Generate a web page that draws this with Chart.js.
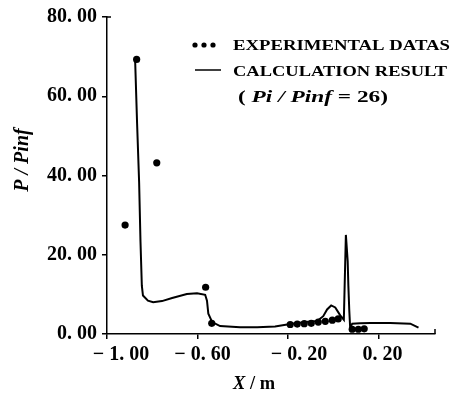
<!DOCTYPE html>
<html>
<head>
<meta charset="utf-8">
<script src="https://cdn.jsdelivr.net/npm/chart.js@4.4.1/dist/chart.umd.min.js"></script>
<style>
  html, body { margin: 0; padding: 0; background: #fff; }
  #wrap { width: 470px; height: 396px; position: relative; }
</style>
</head>
<body>
<div id="wrap"><canvas id="chart" width="470" height="396"></canvas></div>
<script>
// calculation result (P/Pinf vs X in m)
var calcX = [-0.876, -0.867, -0.858, -0.852, -0.846, -0.841, -0.819, -0.796, -0.757, -0.712,
  -0.647, -0.602, -0.566, -0.558, -0.552, -0.535, -0.500, -0.412, -0.336, -0.257,
  -0.190, -0.124, -0.071, -0.044, -0.027, -0.009, 0.009, 0.031, 0.047, 0.056,
  0.064, 0.067, 0.071, 0.075, 0.084, 0.119, 0.164, 0.252, 0.341, 0.377];
var calcY = [69.8, 53.2, 38.3, 23.4, 12.2, 9.7, 8.4, 8.0, 8.3, 9.1,
  10.1, 10.3, 9.9, 8.4, 5.1, 3.0, 2.0, 1.7, 1.7, 1.9,
  2.5, 3.0, 3.3, 4.5, 6.2, 7.2, 6.7, 4.7, 3.6, 25.0,
  18.4, 12.2, 6.0, 1.5, 2.6, 2.7, 2.8, 2.8, 2.6, 1.6];

// experimental data points
var expX = [-0.920, -0.869, -0.780, -0.564, -0.537,
  -0.190, -0.159, -0.128, -0.097, -0.066, -0.035, -0.004, 0.022,
  0.084, 0.111, 0.137];
var expY = [27.5, 69.3, 43.2, 11.8, 2.7,
  2.4, 2.5, 2.6, 2.7, 3.0, 3.2, 3.5, 3.8,
  1.2, 1.2, 1.3];

var xTicks = [-1.0, -0.6, -0.2, 0.2];
var yTicks = [0, 20, 40, 60, 80];
var legendLabels = ['EXPERIMENTAL DATAS', 'CALCULATION RESULT'];

var serif = '"Liberation Serif", "Times New Roman", serif';

function toPoints(xs, ys) {
  return xs.map(function(x, i) { return { x: x, y: ys[i] }; });
}

// the printed labels have a gap after the point and after the minus
function fmtTick(v) {
  var s = Math.abs(v).toFixed(2).replace('.', '. ');
  return v < 0 ? '\u2212 ' + s : s;
}

// draws pieces of text one after another, each with its own font,
// stretched sideways to the given width
function drawRuns(ctx, runs, x, y, width) {
  var total = 0;
  runs.forEach(function(r) { ctx.font = r[1]; total += ctx.measureText(r[0]).width; });
  var sx = width ? width / total : 1;
  ctx.save();
  ctx.translate(x, y);
  ctx.scale(sx, 1);
  var cx = 0;
  runs.forEach(function(r) {
    ctx.font = r[1];
    ctx.fillText(r[0], cx, 0);
    cx += ctx.measureText(r[0]).width;
  });
  ctx.restore();
}

var overlay = {
  id: 'overlay',
  afterDraw: function(chart) {
    var ctx = chart.ctx;
    var area = chart.chartArea;
    var xs = chart.scales.x;
    ctx.save();
    ctx.fillStyle = '#000';
    ctx.strokeStyle = '#000';

    // small end marks on the axes
    ctx.lineWidth = 1.5;
    ctx.beginPath();
    ctx.moveTo(area.left, area.top);
    ctx.lineTo(area.left + 4, area.top);
    ctx.moveTo(area.right, area.bottom);
    ctx.lineTo(area.right, area.bottom - 5);
    ctx.stroke();

    // x tick labels, nudged the way they are printed
    var nudge = [14, 5, 11, 4];
    ctx.textBaseline = 'middle';
    ctx.textAlign = 'center';
    ctx.font = 'bold 20px ' + serif;
    xTicks.forEach(function(v, i) {
      ctx.fillText(fmtTick(v), xs.getPixelForValue(v) + nudge[i], area.bottom + 21);
    });

    // legend
    ctx.textAlign = 'left';
    [195, 204, 213].forEach(function(cx) {
      ctx.beginPath();
      ctx.arc(cx, 45, 2.6, 0, Math.PI * 2);
      ctx.fill();
    });
    ctx.beginPath();
    ctx.moveTo(195, 70);
    ctx.lineTo(221, 70);
    ctx.stroke();
    drawRuns(ctx, [[legendLabels[0], 'bold 15px ' + serif]], 233, 46, 217);
    drawRuns(ctx, [[legendLabels[1], 'bold 15px ' + serif]], 233, 72, 214);
    drawRuns(ctx, [
      ['( ', 'bold 17px ' + serif],
      ['Pi / Pinf', 'italic bold 17px ' + serif],
      [' = 26)', 'bold 17px ' + serif]
    ], 238, 98, 150);

    // x axis title
    drawRuns(ctx, [
      ['X', 'italic bold 18px ' + serif],
      [' / m', 'bold 18px ' + serif]
    ], 233, 384, 42);

    // y axis title
    ctx.translate(23, 160);
    ctx.rotate(-Math.PI / 2);
    ctx.textAlign = 'center';
    ctx.font = 'italic bold 20px ' + serif;
    ctx.fillText('P / Pinf', 0, 0);
    ctx.restore();
  }
};

var axisLine = { display: true, color: '#000', width: 1.5 };
var tickGrid = { display: true, drawOnChartArea: false, drawTicks: true, tickLength: 5, color: '#000', lineWidth: 1.5 };

var chart = new Chart(document.getElementById('chart'), {
  type: 'scatter',
  data: {
    datasets: [{
      label: legendLabels[1],
      data: toPoints(calcX, calcY),
      showLine: true,
      borderColor: '#000',
      borderWidth: 2,
      pointRadius: 0,
      tension: 0
    }, {
      label: legendLabels[0],
      data: toPoints(expX, expY),
      showLine: false,
      backgroundColor: '#000',
      borderColor: '#000',
      pointRadius: 3.6,
      pointBorderWidth: 0
    }]
  },
  options: {
    responsive: false,
    animation: false,
    layout: { padding: { left: 0, right: 35, top: 12, bottom: 0 } },
    plugins: { legend: { display: false }, tooltip: { enabled: false } },
    scales: {
      x: {
        type: 'linear',
        min: -1.0,
        max: 0.45,
        border: axisLine,
        grid: tickGrid,
        afterBuildTicks: function(scale) {
          scale.ticks = xTicks.map(function(v) { return { value: v }; });
        },
        afterFit: function(scale) { scale.height = 62; },
        ticks: { display: false }
      },
      y: {
        type: 'linear',
        min: 0,
        max: 80,
        border: axisLine,
        grid: tickGrid,
        afterBuildTicks: function(scale) {
          scale.ticks = yTicks.map(function(v) { return { value: v }; });
        },
        afterFit: function(scale) { scale.width = 107; },
        ticks: {
          color: '#000',
          padding: 5,
          font: { family: serif, size: 20, weight: 'bold' },
          callback: function(v) { return fmtTick(v); }
        }
      }
    }
  },
  plugins: [overlay]
});
</script>
</body>
</html>
